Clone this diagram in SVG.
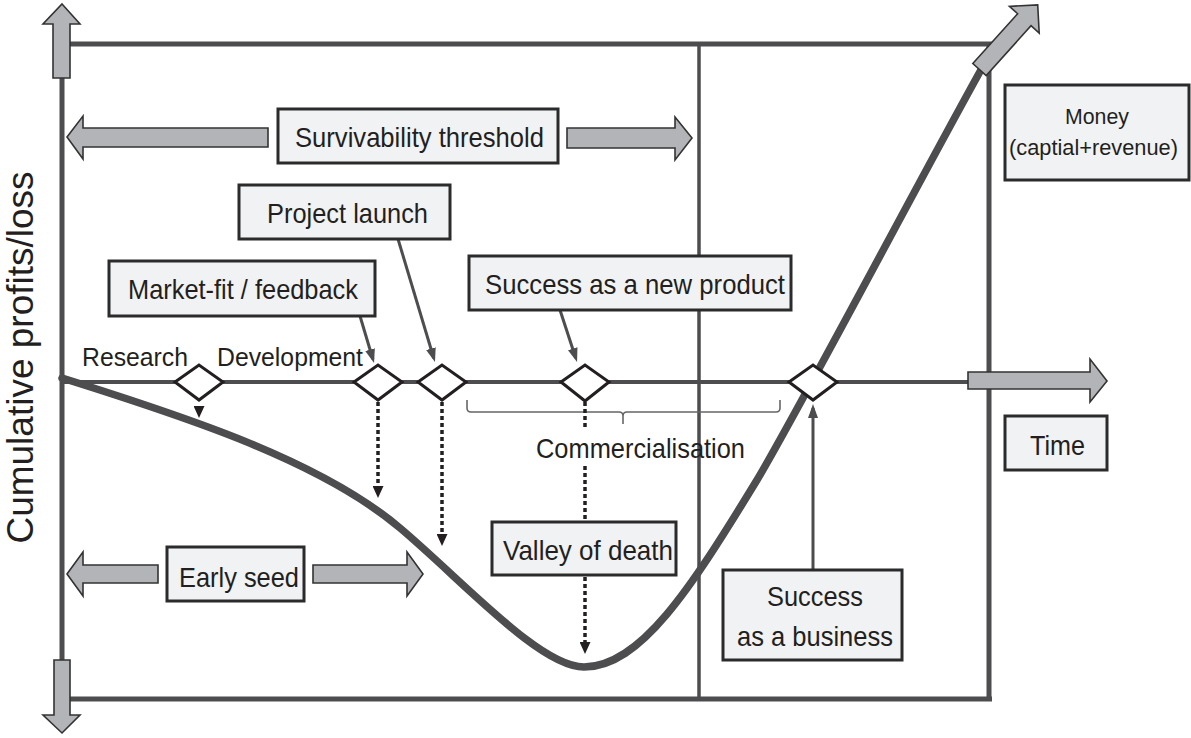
<svg xmlns="http://www.w3.org/2000/svg" width="1191" height="738" viewBox="0 0 1191 738">
<style>
.frame{stroke:#4d4d4f;stroke-width:5;fill:none}
.thin{stroke:#4d4d4f;stroke-width:3.5;fill:none}
.curve{stroke:#4d4d4f;stroke-width:7.5;fill:none;stroke-linecap:round}
.box{fill:#f1f2f4;stroke:#2b2b2b;stroke-width:3}
.blk{fill:#b3b4b7;stroke:#333;stroke-width:1.6;stroke-linejoin:miter}
.dia{fill:#fff;stroke:#231f20;stroke-width:3}
.conn{stroke:#4d4d4f;stroke-width:3;fill:none}
.dot{stroke:#231f20;stroke-width:3.5;stroke-dasharray:4 3;fill:none}
.brk{stroke:#666;stroke-width:1.6;fill:none}
.lbl{font-family:"Liberation Sans",Arial,Helvetica,sans-serif;fill:#231f20;font-size:28px}
.sm{font-size:25px}
.xs{font-size:22px}
</style>
<defs>
<marker id="ah" viewBox="0 0 14 10" refX="10" refY="5" markerWidth="14" markerHeight="10" markerUnits="userSpaceOnUse" orient="auto"><path d="M0,0 L14,5 L0,10 z" fill="#4d4d4f"/></marker>
<marker id="dh" viewBox="0 0 12 11" refX="4" refY="5.5" markerWidth="12" markerHeight="11" markerUnits="userSpaceOnUse" orient="auto"><path d="M0,0 L12,5.5 L0,11 z" fill="#231f20"/></marker>
</defs>

<g id="frame">
<line class="frame" x1="62" y1="76" x2="62" y2="662"/>
<line class="frame" x1="68" y1="44" x2="992" y2="44"/>
<line class="frame" x1="68" y1="699" x2="992" y2="699"/>
<line class="frame" x1="989" y1="44" x2="989" y2="701"/>
<line class="thin" x1="699" y1="44" x2="699" y2="699"/>
<line class="thin" x1="62" y1="382" x2="970" y2="382" style="stroke-width:4"/>
</g>

<path id="cumulative-curve" class="curve" d="M62,378 C180,415 320,460 400,528 C464,582 540,667 584,667 C640,667 690,590 757,480 C800,408 925,170 982,68"/>

<g id="bracket">
<path class="brk" d="M467,400 L467,408 Q467,412 471,412 L619,412 Q623,412 623,416 L623,424 M623,416 Q623,412 627,412 L776,412 Q780,412 780,408 L780,400"/>
</g>

<g id="connectors">
<line class="conn" x1="360" y1="316" x2="372.9" y2="359.2" marker-end="url(#ah)"/>
<line class="conn" x1="398" y1="239" x2="433.8" y2="358.2" marker-end="url(#ah)"/>
<line class="conn" x1="560" y1="310" x2="575.8" y2="358.2" marker-end="url(#ah)"/>
<line class="conn" x1="813" y1="570" x2="813" y2="408" marker-end="url(#ah)"/>
<line class="dot" x1="199" y1="406" x2="199" y2="410" style="stroke-dasharray:none" marker-end="url(#dh)"/>
<line class="dot" x1="378" y1="402" x2="378" y2="490" marker-end="url(#dh)"/>
<line class="dot" x1="442" y1="402" x2="442" y2="538" marker-end="url(#dh)"/>
<line class="dot" x1="585" y1="402" x2="585" y2="430"/>
<line class="dot" x1="585" y1="466" x2="585" y2="522"/>
<line class="dot" x1="585" y1="577" x2="585" y2="646" marker-end="url(#dh)"/>
</g>

<g id="milestone-research"><polygon class="dia" points="175,382 199,365 223,382 199,400"/></g>
<g id="milestone-marketfit"><polygon class="dia" points="354,382 378,365 402,382 378,400"/></g>
<g id="milestone-launch"><polygon class="dia" points="418,382 442,365 466,382 442,400"/></g>
<g id="milestone-product"><polygon class="dia" points="561,382 585,365 609,382 585,401"/></g>
<g id="milestone-business"><polygon class="dia" points="789,382 813,365 837,382 813,400"/></g>

<g id="axis-up"><polygon class="blk" points="62,4 80,24 70,24 70,78 53,78 53,24 43,24"/></g>
<g id="axis-down"><polygon class="blk" points="54,660 70,660 70,715 80,715 62,733 43,715 54,715"/></g>
<g id="money-arrow"><polygon class="blk" transform="translate(979.5,69.5) rotate(-48)" points="0,-9 67,-9 67,-20 87,0 67,20 67,9 0,9"/></g>
<g id="time-arrow"><polygon class="blk" points="968,372 1090,372 1090,359 1107,381 1090,402 1090,389 968,389"/></g>

<g id="survivability">
<polygon class="blk" points="67,137 83,116 83,128 268,128 268,147 83,147 83,159"/>
<polygon class="blk" points="567,128 675,128 675,117 692,138 675,160 675,148 567,148"/>
<rect class="box" x="278" y="109" width="280" height="54"/>
<text class="lbl" x="295" y="147" textLength="249" lengthAdjust="spacingAndGlyphs">Survivability threshold</text>
</g>

<g id="early-seed">
<polygon class="blk" points="67,574 83,552 83,565 158,565 158,583 83,583 83,596"/>
<polygon class="blk" points="313,565 407,565 407,552 423,574 407,596 407,583 313,583"/>
<rect class="box" x="167" y="547" width="137" height="54"/>
<text class="lbl" x="179" y="587" textLength="120" lengthAdjust="spacingAndGlyphs">Early seed</text>
</g>

<g id="project-launch">
<rect class="box" x="239" y="185" width="211" height="54"/>
<text class="lbl" x="267" y="223" textLength="161" lengthAdjust="spacingAndGlyphs">Project launch</text>
</g>

<g id="market-fit">
<rect class="box" x="109" y="261" width="266" height="55"/>
<text class="lbl" x="128" y="299" textLength="230" lengthAdjust="spacingAndGlyphs">Market-fit / feedback</text>
</g>

<g id="success-product">
<rect class="box" x="469" y="256" width="322" height="54"/>
<text class="lbl" x="485" y="294" textLength="300" lengthAdjust="spacingAndGlyphs">Success as a new product</text>
</g>

<g id="valley-of-death">
<rect class="box" x="492" y="522" width="184" height="53"/>
<text class="lbl" x="503" y="560" textLength="170" lengthAdjust="spacingAndGlyphs">Valley of death</text>
</g>

<g id="success-business">
<rect class="box" x="723" y="570" width="179" height="90"/>
<text class="lbl" x="767" y="606" textLength="96" lengthAdjust="spacingAndGlyphs">Success</text>
<text class="lbl" x="737" y="646" textLength="156" lengthAdjust="spacingAndGlyphs">as a business</text>
</g>

<g id="money">
<rect class="box" x="1005" y="85" width="184" height="95"/>
<text class="lbl xs" x="1065" y="124" textLength="64" lengthAdjust="spacingAndGlyphs">Money</text>
<text class="lbl xs" x="1009" y="155" textLength="169" lengthAdjust="spacingAndGlyphs">(captial+revenue)</text>
</g>

<g id="time">
<rect class="box" x="1005" y="416" width="102" height="54"/>
<text class="lbl" x="1030" y="455" textLength="55" lengthAdjust="spacingAndGlyphs">Time</text>
</g>

<g id="phase-labels">
<text class="lbl sm" x="82" y="366" textLength="106" lengthAdjust="spacingAndGlyphs">Research</text>
<text class="lbl sm" x="217" y="366" textLength="146" lengthAdjust="spacingAndGlyphs">Development</text>
<text class="lbl" x="536" y="458" textLength="209" lengthAdjust="spacingAndGlyphs">Commercialisation</text>
</g>

<g id="y-axis-label">
<text class="lbl" style="font-size:37px" text-anchor="middle" transform="translate(33,357.5) rotate(-90)">Cumulative profits/loss</text>
</g>
</svg>
